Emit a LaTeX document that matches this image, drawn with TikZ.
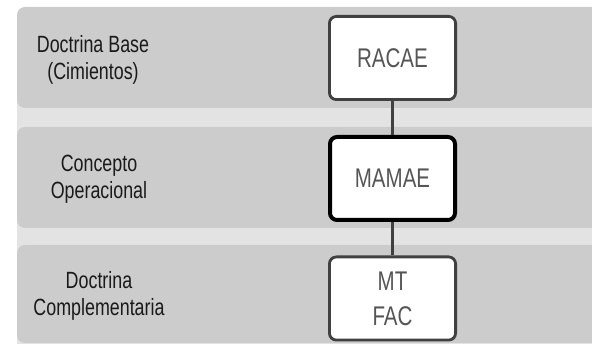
\documentclass[tikz,border=0pt]{standalone}
\usepackage{fontspec}
\newfontfamily\narrowfont[FakeStretch=0.76]{Liberation Sans}
\definecolor{bandgray}{HTML}{CCCCCC}
\definecolor{bggray}{HTML}{E3E3E3}
\definecolor{boxline}{HTML}{404040}
\definecolor{boxtext}{HTML}{555555}
\definecolor{labtext}{HTML}{1A1A1A}
\begin{document}
\begin{tikzpicture}[x=1pt,y=-1pt,
  band/.style={fill=bandgray, rounded corners=8pt},
  box/.style={draw=boxline, line width=2.8pt, fill=white, rounded corners=7pt,
    minimum width=126.2pt, minimum height=83.2pt, text=boxtext,
    font=\narrowfont\fontsize{27}{35}\selectfont, align=center, inner sep=0pt},
  mainbox/.style={box, draw=black, line width=4pt, minimum width=125pt, minimum height=83pt},
  lab/.style={text=labtext, font=\narrowfont\fontsize{23.5}{27}\selectfont, align=center, inner sep=0pt},
  link/.style={draw=boxline, line width=3pt}]
\useasboundingbox (0,0) rectangle (592,344);
\clip (0,0) rectangle (592,344);
\fill[white] (0,0) rectangle (592,344);
\fill[bggray] (17,20) rectangle (600,344);
\fill[band] (17,7) rectangle (640,108);
\fill[band] (17,127) rectangle (640,228);
\fill[band] (17,245) rectangle (640,343);
\node[box] (racae) at (392.5,58) {RACAE};
\node[mainbox] (mamae) at (392.5,178.5) {MAMAE};
\node[box] (mtfac) at (392.5,298.5) {MT\\FAC};
\draw[link] (racae.south) -- (mamae.north);
\draw[link] (mamae.south) -- (mtfac.north);
\node[lab] (l1) at (93,60) {Doctrina Base\\(Cimientos)};
\node[lab] (l2) at (99,179) {Concepto\\Operacional};
\node[lab] (l3) at (99,296) {Doctrina\\Complementaria};
\end{tikzpicture}
\end{document}
